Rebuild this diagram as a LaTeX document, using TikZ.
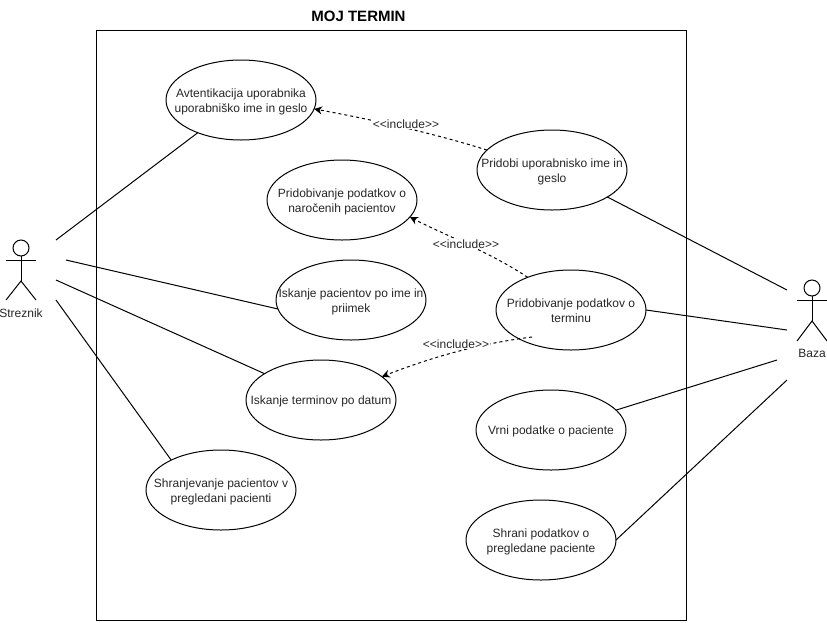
\documentclass[tikz,border=0pt]{standalone}
\usepackage{fontspec}
\setmainfont{Liberation Sans}
\usetikzlibrary{shapes.geometric,arrows.meta}
\newcommand{\uctext}[1]{\raisebox{-4.7pt}[0pt][0pt]{\makebox[0pt]{\begin{tabular}{@{}c@{}}#1\end{tabular}}}}
\tikzset{
  usecase/.style={draw=black,line width=1pt,ellipse,minimum width=150pt,minimum height=80pt,inner sep=0pt,outer sep=0pt,font=\fontsize{12}{15}\selectfont,text=black!85},
  assoc/.style={draw=black,line width=1pt},
  incl/.style={draw=black,line width=1pt,dash pattern=on 3pt off 3pt,-{Stealth[length=8pt,width=8pt]}},
  incllabel/.style={fill=white,inner sep=1pt,font=\fontsize{12}{14}\selectfont,text=black!85},
  actorhead/.style={draw=black,line width=1pt,circle,minimum size=16pt,inner sep=0pt,outer sep=0pt},
  actorlimb/.style={draw=black,line width=1pt},
  actorname/.style={font=\fontsize{12}{14}\selectfont,text=black!85,inner sep=0pt},
  systembox/.style={draw=black,line width=1pt,minimum width=590pt,minimum height=590pt,inner sep=0pt,outer sep=0pt},
  boxtitle/.style={font=\fontsize{15}{17}\selectfont\bfseries,inner sep=0pt}
}
\begin{document}
\begin{tikzpicture}[x=1pt,y=-1pt]
\useasboundingbox (0,0) rectangle (827,622);
\node[systembox] (box) at (391.7,325) {};
\node[boxtitle] (title) at (358.5,16) {MOJ TERMIN};

\node[usecase] (avt) at (241,100) {\uctext{Avtentikacija uporabnika\\uporabniško ime in geslo}};
\node[usecase] (pri) at (552,170) {\uctext{Pridobi uporabnisko ime in\\geslo}};
\node[usecase] (nar) at (342,200) {\uctext{Pridobivanje podatkov o\\naročenih pacientov}};
\node[usecase] (isp) at (351,300) {\uctext{Iskanje pacientov po ime in\\priimek}};
\node[usecase] (ter) at (571,310) {\uctext{Pridobivanje podatkov o\\terminu}};
\node[usecase] (ist) at (321,400) {\uctext{Iskanje terminov po datum}};
\node[usecase] (vrn) at (551,430) {\uctext{Vrni podatke o paciente}};
\node[usecase] (shp) at (221,490) {\uctext{Shranjevanje pacientov v\\pregledani pacienti}};
\node[usecase] (shr) at (541,540) {\uctext{Shrani podatkov o\\pregledane paciente}};

% Streznik
\node[actorhead] (sh) at (21,248) {};
\coordinate (sa1) at (6,260);
\coordinate (sa2) at (36,260);
\coordinate (sh1) at (21,281);
\coordinate (sl1) at (6,300);
\coordinate (sl2) at (36,300);
\draw[actorlimb] (sh.south) -- (sh1);
\draw[actorlimb] (sa1) -- (sa2);
\draw[actorlimb] (sl1) -- (sh1) -- (sl2);
\node[actorname] (sname) at (21,313) {Streznik};

% Baza
\node[actorhead] (bh) at (812,288) {};
\coordinate (ba1) at (797,300);
\coordinate (ba2) at (827,300);
\coordinate (bh1) at (812,321);
\coordinate (bl1) at (797,341);
\coordinate (bl2) at (827,341);
\draw[actorlimb] (bh.south) -- (bh1);
\draw[actorlimb] (ba1) -- (ba2);
\draw[actorlimb] (bl1) -- (bh1) -- (bl2);
\node[actorname] (bname) at (812,353) {Baza};

% free ends near actors
\coordinate (s1) at (56,240);
\coordinate (s2) at (66,260);
\coordinate (s3) at (56,280);
\coordinate (s4) at (56,300);
\coordinate (b1) at (787,290);
\coordinate (b2) at (787,330);
\coordinate (b3) at (777,360);
\coordinate (b4) at (787,380);

\draw[assoc] (s1) -- (avt);
\draw[assoc] (s2) -- (isp.187.6);
\draw[assoc] (s3) -- (ist.155);
\draw[assoc] (s4) -- (shp.149);
\draw[assoc] (b1) -- (pri.-26.6);
\draw[assoc] (b2) -- (ter.0);
\draw[assoc] (b3) -- (vrn.17.6);
\draw[assoc] (b4) -- (shr.0);

% include
\draw[incl] (pri.163.4) .. controls (440,135) and (375,120) .. (avt.-7.7);
\node[incllabel] (l1) at (406,124) {<{}<include>{}>};
\draw[incl] (ter.143.7) .. controls (490,252) and (440,233) .. (nar.-14.5);
\node[incllabel] (l2) at (466,244) {<{}<include>{}>};
\coordinate (t3) at (532,337);
\draw[incl] (t3) .. controls (485,343) and (440,354) .. (ist.21);
\node[incllabel] (l3) at (456,344) {<{}<include>{}>};
\end{tikzpicture}
\end{document}
